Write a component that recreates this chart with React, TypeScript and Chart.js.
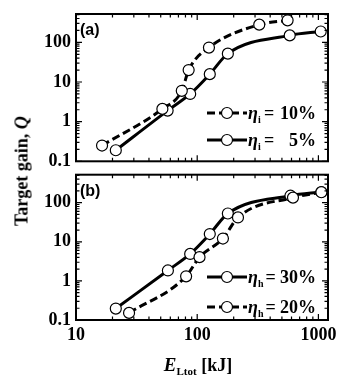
import React, { useEffect, useRef } from "react";
import { Chart, registerables } from "chart.js";
Chart.register(...registerables);

// Panel (a): ion-beam efficiency
const eI10 = [16.4, 51.6, 74.6, 85, 125, 325, 557];
const qI10 = [0.25, 2.1, 6.0, 20, 74, 280, 360];
const eI5 = [21.3, 57, 87.5, 127, 179, 580, 1045];
const qI5 = [0.19, 1.9, 5.0, 15.8, 52, 150, 188];
// Panel (b): heating-laser efficiency
const eH30 = [21.3, 57.3, 87.5, 127, 179, 588, 1058];
const qH30 = [0.196, 1.85, 4.9, 15.8, 53, 151, 188];
const eH20 = [27.4, 81, 104.5, 163, 217, 617, 1058];
const qH20 = [0.152, 1.31, 4.05, 12.1, 42, 135, 185];

const xTicks = [10, 100, 1000];
const yTicks = [0.1, 1, 10, 100];

const SERIF = '"Liberation Serif", "Times New Roman", serif';
const SANS = '"Liberation Sans", Arial, sans-serif';

type Leg = { dashed: boolean; sub: string; value: string };

function ds(xs: number[], ys: number[], dashed: boolean) {
  return {
    data: xs.map((x, i) => ({ x, y: ys[i] })),
    showLine: true,
    borderColor: "#000",
    borderWidth: 3,
    borderDash: dashed ? [8, 4] : [],
    cubicInterpolationMode: "monotone" as const,
    pointRadius: 5.5,
    pointBorderWidth: 1.2,
    pointBorderColor: "#000",
    pointBackgroundColor: "#fff",
  };
}

function Panel(props: {
  top: number;
  height: number;
  padTop: number;
  xAxisH: number;
  showX: boolean;
  label: string;
  datasets: any[];
  legend: Leg[];
  legendY: number[];
}) {
  const ref = useRef<HTMLCanvasElement>(null);
  useEffect(() => {
    const deco = {
      id: "deco",
      afterDraw(chart: any) {
        const { ctx, chartArea: a, scales } = chart;
        const xs = scales.x, ys = scales.y;
        ctx.save();
        ctx.strokeStyle = "#000";
        ctx.lineWidth = 1.2;
        for (const d of [10, 100, 1000]) {
          for (let m = 1; m <= 9; m++) {
            const v = m * d;
            if (v < xs.min || v > xs.max) continue;
            const px = xs.getPixelForValue(v);
            const L = m === 1 ? 6 : 3.5;
            ctx.beginPath();
            ctx.moveTo(px, a.bottom); ctx.lineTo(px, a.bottom - L);
            ctx.moveTo(px, a.top); ctx.lineTo(px, a.top + L);
            ctx.stroke();
          }
        }
        for (const d of [0.1, 1, 10, 100]) {
          for (let m = 1; m <= 9; m++) {
            const v = m * d;
            if (v < ys.min || v > ys.max) continue;
            const py = ys.getPixelForValue(v);
            const L = m === 1 ? 6 : 3.5;
            ctx.beginPath();
            ctx.moveTo(a.left, py); ctx.lineTo(a.left + L, py);
            ctx.moveTo(a.right, py); ctx.lineTo(a.right - L, py);
            ctx.stroke();
          }
        }
        ctx.lineWidth = 2;
        ctx.strokeRect(a.left, a.top, a.right - a.left, a.bottom - a.top);
        ctx.fillStyle = "#000";
        ctx.font = `bold 16px ${SANS}`;
        ctx.textBaseline = "middle";
        ctx.textAlign = "left";
        ctx.fillText(props.label, a.left + 4, a.top + 17);
        props.legend.forEach((lg, i) => {
          const y = props.legendY[i];
          ctx.beginPath();
          ctx.lineWidth = 3;
          ctx.setLineDash(lg.dashed ? [8, 4] : []);
          ctx.moveTo(207, y); ctx.lineTo(247, y);
          ctx.stroke();
          ctx.setLineDash([]);
          ctx.beginPath();
          ctx.lineWidth = 1.2;
          ctx.arc(227, y, 5.5, 0, Math.PI * 2);
          ctx.fillStyle = "#fff";
          ctx.fill();
          ctx.stroke();
          ctx.fillStyle = "#000";
          ctx.textAlign = "left";
          ctx.textBaseline = "alphabetic";
          ctx.font = `italic bold 18px ${SERIF}`;
          ctx.fillText("\u03b7", 248, y + 6);
          const ew = ctx.measureText("\u03b7").width;
          ctx.font = `bold 10px ${SERIF}`;
          ctx.fillText(lg.sub, 248 + ew, y + 10);
          const sw = ctx.measureText(lg.sub).width;
          ctx.font = `bold 18px ${SERIF}`;
          ctx.fillText("=", Math.max(264, 248 + ew + sw + 2), y + 6);
          ctx.textAlign = "right";
          ctx.fillText(lg.value, 316, y + 6);
        });
        ctx.restore();
      },
    };
    const chart = new Chart(ref.current!, {
      type: "scatter",
      data: { datasets: props.datasets },
      plugins: [deco],
      options: {
        animation: false,
        responsive: false,
        layout: { padding: { left: 0, right: 14, top: props.padTop, bottom: 0 } },
        plugins: { legend: { display: false }, tooltip: { enabled: false } },
        scales: {
          x: {
            type: "logarithmic",
            min: 10,
            max: 1200,
            border: { display: false },
            grid: { display: false, drawTicks: false },
            afterBuildTicks: (ax: any) => { ax.ticks = xTicks.map((v) => ({ value: v })); },
            afterFit: (ax: any) => {
              ax.height = props.xAxisH;
              ax.paddingLeft = 0; ax.paddingRight = 0; ax.paddingTop = 0; ax.paddingBottom = 0;
            },
            ticks: {
              display: props.showX,
              autoSkip: false,
              maxRotation: 0,
              padding: 5,
              color: "#000",
              font: { family: SERIF, size: 18, weight: "bold" },
              callback: (v: any) => String(v),
            },
          },
          y: {
            type: "logarithmic",
            min: 0.1,
            max: 520,
            border: { display: false },
            grid: { display: false, drawTicks: false },
            afterBuildTicks: (ax: any) => { ax.ticks = yTicks.map((v) => ({ value: v })); },
            afterFit: (ax: any) => {
              ax.width = 76;
              ax.paddingLeft = 0; ax.paddingRight = 0; ax.paddingTop = 0; ax.paddingBottom = 0;
            },
            ticks: {
              autoSkip: false,
              padding: 5,
              color: "#000",
              font: { family: SERIF, size: 18, weight: "bold" },
              callback: (v: any) => String(v),
            },
          },
        },
      } as any,
    });
    return () => chart.destroy();
  }, []);
  return (
    <canvas
      ref={ref}
      width={342}
      height={props.height}
      style={{ position: "absolute", left: 0, top: props.top, width: 342, height: props.height }}
    />
  );
}

export default function App() {
  return (
    <div style={{ position: "fixed", left: 0, top: 0, width: 342, height: 382, background: "#fff", overflow: "hidden" }}>
      <Panel
        top={0}
        height={168}
        padTop={14}
        xAxisH={5}
        showX={false}
        label="(a)"
        datasets={[ds(eI10, qI10, true), ds(eI5, qI5, false)]}
        legend={[
          { dashed: true, sub: "i", value: "10%" },
          { dashed: false, sub: "i", value: "5%" },
        ]}
        legendY={[113, 140]}
      />
      <Panel
        top={168}
        height={214}
        padTop={3}
        xAxisH={62}
        showX={true}
        label="(b)"
        datasets={[ds(eH20, qH20, true), ds(eH30, qH30, false)]}
        legend={[
          { dashed: false, sub: "h", value: "30%" },
          { dashed: true, sub: "h", value: "20%" },
        ]}
        legendY={[109, 139]}
      />
      <div
        style={{
          position: "absolute",
          left: 22,
          top: 171,
          transform: "translate(-50%, -50%) rotate(-90deg)",
          whiteSpace: "nowrap",
          font: `bold 18px ${SERIF}`,
          color: "#000",
        }}
      >
        Target gain, <i>Q</i>
      </div>
      <div
        style={{
          position: "absolute",
          left: 198,
          top: 365,
          transform: "translate(-50%, -50%)",
          whiteSpace: "nowrap",
          font: `bold 18px ${SERIF}`,
          color: "#000",
        }}
      >
        <i style={{ fontSize: 19 }}>E</i>
        <span style={{ fontSize: 11, verticalAlign: -4 }}>Ltot</span> [kJ]
      </div>
    </div>
  );
}
